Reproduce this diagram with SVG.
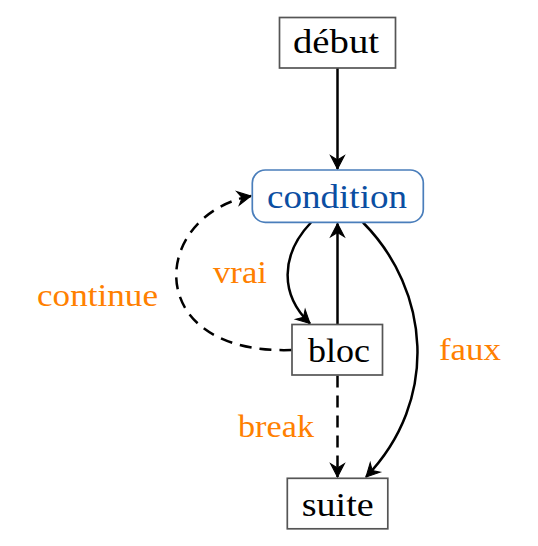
<svg xmlns="http://www.w3.org/2000/svg" width="538" height="546" viewBox="0 0 538 546">
<defs>
<style>
.box{fill:#fff;stroke:#555;stroke-width:1.7}
.cond{fill:#fff;stroke:#4a7ebb;stroke-width:1.7}
.nt{font-family:"Liberation Serif","Times New Roman",serif;font-size:34px;fill:#000}
.ct{font-family:"Liberation Serif","Times New Roman",serif;font-size:34px;fill:#0b4ea2}
.lbl{font-family:"Liberation Serif","Times New Roman",serif;font-size:32px;fill:#ff8000}
.edge{fill:none;stroke:#000;stroke-width:2.5;marker-end:url(#arr)}
.dash{stroke-dasharray:12 8}
</style>
<marker id="arr" markerUnits="userSpaceOnUse" markerWidth="18" markerHeight="18" viewBox="-15 -8 17 16" refX="0" refY="0" orient="auto">
<path d="M0,0 L-12.5,-6.5 L-8.5,0 L-12.5,6.5 Z" fill="#000" stroke="#000" stroke-width="1" stroke-linejoin="miter" stroke-dasharray="none"/>
</marker>
</defs>
<g id="connectors">
<path class="edge" d="M337.5,68 L337.5,169"/>
<path class="edge" d="M311,222.5 C280,255 280,295 310,323.5"/>
<path class="edge" d="M337.5,324 L337.5,223.5"/>
<path class="edge" d="M363,222.5 C430,290 440,400 366,477"/>
<path class="edge dash" d="M291.5,350 C140,355 150,215 251,196"/>
<path class="edge dash" d="M337.5,375.5 L337.5,477"/>
</g>
<g id="labels">
<text class="lbl" x="213" y="283" textLength="54" lengthAdjust="spacingAndGlyphs">vrai</text>
<text class="lbl" x="37" y="306" textLength="121" lengthAdjust="spacingAndGlyphs">continue</text>
<text class="lbl" x="439" y="360" textLength="62" lengthAdjust="spacingAndGlyphs">faux</text>
<text class="lbl" x="238" y="437" textLength="76" lengthAdjust="spacingAndGlyphs">break</text>
</g>
<g id="debut">
<rect class="box" x="279.5" y="17.5" width="116" height="50.5"/>
<text class="nt" x="293" y="53.3" textLength="86" lengthAdjust="spacingAndGlyphs">début</text>
</g>
<g id="condition">
<rect class="cond" x="252.3" y="170" width="171" height="52.3" rx="13" ry="13"/>
<text class="ct" x="267" y="208" textLength="140" lengthAdjust="spacingAndGlyphs">condition</text>
</g>
<g id="bloc">
<rect class="box" x="292" y="324.5" width="90.5" height="50.5"/>
<text class="nt" x="308" y="361.7" textLength="62" lengthAdjust="spacingAndGlyphs">bloc</text>
</g>
<g id="suite">
<rect class="box" x="287.3" y="478.3" width="100.5" height="50.5"/>
<text class="nt" x="301.7" y="515.7" textLength="72" lengthAdjust="spacingAndGlyphs">suite</text>
</g>
</svg>
